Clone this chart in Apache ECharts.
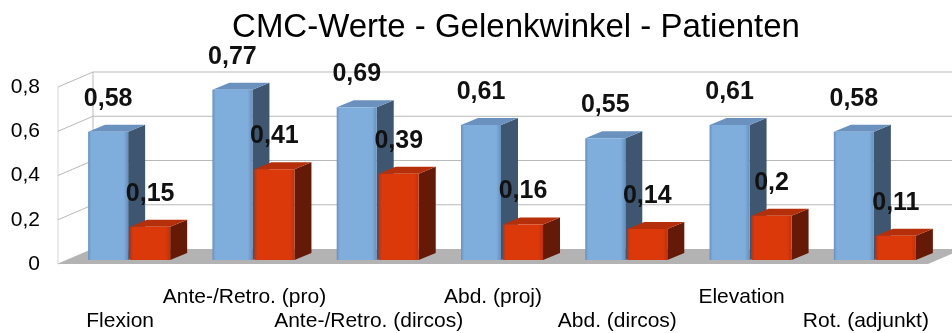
<!DOCTYPE html>
<html>
<head>
<meta charset="utf-8">
<script src="https://cdn.jsdelivr.net/npm/echarts@6/dist/echarts.min.js"></script>
<style>
  html, body { margin: 0; padding: 0; background: #ffffff; }
  #chart { width: 952px; height: 333px; }
</style>
</head>
<body>
<div id="chart"></div>
<script>
// Chart data
const categories = ['Flexion', 'Ante-/Retro. (pro)', 'Ante-/Retro. (dircos)', 'Abd. (proj)', 'Abd. (dircos)', 'Elevation', 'Rot. (adjunkt)'];
const blueValues = [0.58, 0.77, 0.69, 0.61, 0.55, 0.61, 0.58];
const redValues = [0.15, 0.41, 0.39, 0.16, 0.14, 0.2, 0.11];
const yTicks = [0, 0.2, 0.4, 0.6, 0.8];

// Oblique 3D projection offsets (pixels): full room depth, bar front plane, bar depth
const WALL = [35, -15];
const FRONT = [9, -4];
const DEPTH = [17, -7];
const FONT = '"Liberation Sans", Arial, sans-serif';

const chart = echarts.init(document.getElementById('chart'), null, { renderer: 'canvas' });

// Floor, side wall and back wall with their grid lines
function renderRoom(params, api) {
  const cs = params.coordSys;
  const left = cs.x, right = cs.x + cs.width;
  const [wx, wy] = WALL;
  const y0 = api.coord([0, 0])[1];
  const yMax = api.coord([0, yTicks[yTicks.length - 1]])[1];
  const lineStyle = { stroke: '#b9b9b9', lineWidth: 1 };
  const children = [];
  // floor
  children.push({
    type: 'polygon',
    shape: { points: [[left, y0], [right, y0], [right + wx, y0 + wy], [left + wx, y0 + wy]] },
    style: { fill: '#b3b3b3' }
  });
  // wall edges
  children.push({ type: 'line', shape: { x1: left, y1: y0, x2: left, y2: yMax }, style: { stroke: '#d6d6d6', lineWidth: 1 } });
  children.push({ type: 'line', shape: { x1: left + wx, y1: y0 + wy, x2: left + wx, y2: yMax + wy }, style: lineStyle });
  yTicks.forEach(function (t) {
    const y = api.coord([0, t])[1];
    children.push({ type: 'line', shape: { x1: left, y1: y, x2: left + wx, y2: y + wy }, style: lineStyle });
    if (t > 0) {
      children.push({ type: 'line', shape: { x1: left + wx, y1: y + wy, x2: right + wx, y2: y + wy }, style: lineStyle });
    }
  });
  return { type: 'group', children: children };
}

// One 3D bar: front face, side face, top face and bold value label
function barRenderer(side, c) {
  return function (params, api) {
    const i = api.value(0), v = api.value(1);
    const top = api.coord([i, v]);
    const base = api.coord([i, 0]);
    const band = api.size([1, 0])[0];
    const w = band * 0.322;
    const gap = band * 0.016;
    const cx = top[0] + FRONT[0];
    const x0 = side < 0 ? cx - gap / 2 - w : cx + gap / 2;
    const yT = top[1] + FRONT[1];
    const yB = base[1] + FRONT[1];
    const dx = DEPTH[0], dy = DEPTH[1];
    return {
      type: 'group',
      children: [
        {
          type: 'polygon',
          shape: { points: [[x0 + w, yT], [x0 + w + dx, yT + dy], [x0 + w + dx, yB + dy], [x0 + w, yB]] },
          style: { fill: c.side }
        },
        {
          type: 'polygon',
          shape: { points: [[x0, yT], [x0 + dx, yT + dy], [x0 + w + dx, yT + dy], [x0 + w, yT]] },
          style: { fill: c.top }
        },
        {
          type: 'rect',
          shape: { x: x0, y: yT, width: w, height: yB - yT },
          style: {
            fill: new echarts.graphic.LinearGradient(0, 0, 1, 0, [
              { offset: 0, color: c.edge },
              { offset: 0.08, color: c.front },
              { offset: 0.88, color: c.front },
              { offset: 1, color: c.edge }
            ])
          }
        },
        {
          type: 'text',
          x: x0 + w / 2,
          y: yT - 33,
          style: {
            text: String(v).replace('.', ','),
            align: 'center',
            verticalAlign: 'middle',
            fill: '#111111',
            font: 'bold 25px ' + FONT
          }
        }
      ]
    };
  };
}

const blueColors = { front: '#80aedc', edge: '#6690bf', side: '#3f5670', top: '#6b92bf' };
const redColors = { front: '#dc390b', edge: '#c23108', side: '#641a06', top: '#b52f0a' };

chart.setOption({
  animation: false,
  backgroundColor: '#ffffff',
  title: {
    text: 'CMC-Werte - Gelenkwinkel - Patienten',
    left: 511,
    top: 6,
    textAlign: 'center',
    textStyle: { fontFamily: FONT, fontSize: 33, fontWeight: 'normal', color: '#000000' }
  },
  grid: { left: 58, right: 24, top: 87, bottom: 69 },
  xAxis: {
    type: 'category',
    data: categories,
    axisLine: { show: false },
    axisTick: { show: false },
    splitLine: { show: false },
    axisLabel: {
      interval: 0,
      margin: 21,
      fontFamily: FONT,
      fontSize: 21,
      lineHeight: 24,
      color: '#000000',
      formatter: function (value, index) { return index % 2 === 1 ? value : '\n' + value; }
    }
  },
  yAxis: {
    type: 'value',
    min: 0,
    max: 0.8,
    interval: 0.2,
    axisLine: { show: false },
    axisTick: { show: false },
    splitLine: { show: false },
    axisLabel: {
      margin: 18,
      fontFamily: FONT,
      fontSize: 21,
      color: '#000000',
      formatter: function (v) { return String(Math.round(v * 10) / 10).replace('.', ','); }
    }
  },
  series: [
    { type: 'custom', z: 1, silent: true, renderItem: renderRoom, data: [[0, 0]] },
    { type: 'custom', z: 2, renderItem: barRenderer(-1, blueColors), data: blueValues.map(function (v, i) { return [i, v]; }) },
    { type: 'custom', z: 3, renderItem: barRenderer(1, redColors), data: redValues.map(function (v, i) { return [i, v]; }) }
  ]
});
</script>
</body>
</html>
